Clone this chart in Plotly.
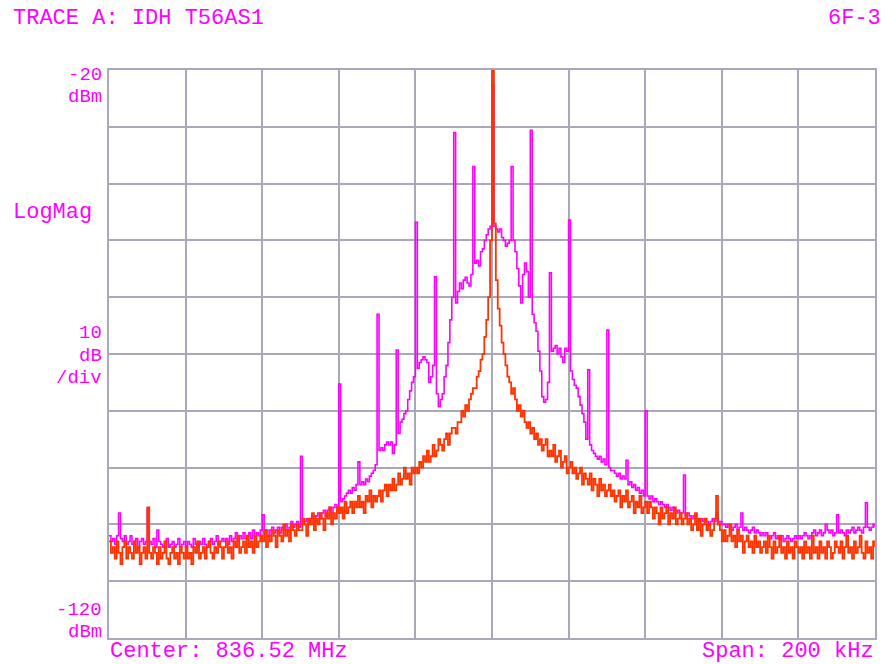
import numpy as np
import plotly.graph_objects as go

# Frequency offset from centre (kHz), 0.5 kHz bins across the 200 kHz span
freq_khz = np.arange(401) * 0.5 - 100.0

# Trace (red/orange) in dBm
trace_red = (
    [-103, -105, -104, -106, -103, -105, -107, -104, -103, -106, -104, -105, -106, -103, -105, -104, -107, -105, -104, -106]
    + [-97, -105, -106, -104, -105, -107, -104, -106, -105, -103, -106, -107, -105, -104, -106, -105, -107, -104, -105, -106]
    + [-104, -106, -105, -107, -104, -105, -103, -106, -105, -104, -106, -104, -103, -105, -106, -104, -105, -103, -104, -106]
    + [-104, -103, -105, -104, -106, -103, -104, -102, -105, -104, -103, -105, -102, -104, -103, -105, -102, -104, -103, -102]
    + [-103, -101, -104, -102, -103, -101, -102, -104, -101, -102, -103, -100, -102, -101, -103, -100, -101, -102, -100, -101]
    + [-101, -99, -100, -102, -99, -100, -98, -101, -99, -100, -98, -99, -101, -98, -99, -97, -100, -98, -99, -97]
    + [-98, -97, -99, -96, -98, -97, -96, -98, -96, -97, -95, -97, -96, -98, -95, -96, -94, -97, -95, -96]
    + [-95, -94, -96, -94, -93, -95, -93, -94, -92, -94, -93, -91, -93, -92, -90, -92, -91, -93, -90, -91]
    + [-90, -91, -89, -90, -88, -89, -87, -89, -88, -86, -88, -87, -85, -86, -87, -85, -84, -86, -84, -83]
    + [-83, -84, -82, -82, -80, -81, -79, -80, -78, -77, -76, -76, -74, -73, -71, -70, -67, -64, -60, -50]
    + [-20]
    + [-47, -57, -62, -65, -68, -70, -72, -74, -75, -77, -76, -78, -80, -79, -81, -80, -82, -83, -82, -84]
    + [-83, -85, -84, -86, -85, -87, -86, -85, -88, -87, -88, -86, -89, -88, -87, -90, -89, -88, -91, -90]
    + [-89, -91, -90, -92, -91, -90, -93, -91, -92, -93, -91, -94, -92, -93, -95, -92, -94, -93, -95, -94]
    + [-93, -95, -94, -96, -95, -94, -97, -95, -96, -94, -97, -96, -95, -98, -96, -97, -95, -98, -97, -96]
    + [-98, -96, -97, -99, -97, -98, -100, -97, -99, -98, -97, -100, -98, -99, -97, -100, -99, -98, -100, -99]
    + [-98, -100, -99, -101, -100, -98, -101, -99, -102, -100, -99, -101, -100, -102, -101, -99, -95, -100, -101, -103]
    + [-101, -103, -102, -100, -103, -102, -104, -101, -103, -102, -105, -103, -102, -104, -103, -105, -102, -104, -103, -105]
    + [-104, -103, -105, -102, -104, -106, -103, -105, -104, -102, -105, -104, -106, -103, -105, -104, -106, -103, -104, -105]
    + [-104, -106, -103, -105, -104, -106, -102, -105, -104, -106, -103, -105, -104, -106, -103, -104, -106, -105, -103, -104]
    + [-105, -103, -106, -104, -102, -105, -104, -106, -103, -105, -104, -102, -105, -106, -103, -105, -104, -106, -103, -104]
)

# Trace A (magenta) in dBm
trace_a = (
    [-102, -103, -102.5, -103.5, -102, -98, -102.5, -103, -102, -103.5, -103, -102, -103.5, -103, -102.5, -104, -103, -102.5, -103.5, -103]
    + [-97.3, -103, -103.5, -102.5, -104, -101, -103, -103.5, -104, -103, -102.5, -104, -103.5, -103, -104, -103.5, -102.5, -104, -103.5, -103]
    + [-104, -103, -103.5, -104, -102.5, -103.5, -104, -103, -103.5, -102.5, -103.5, -104, -103, -102.5, -103.5, -103, -102, -103.5, -103, -102.5]
    + [-103, -102.5, -103.5, -102, -103, -102.5, -101.5, -103, -102, -102.5, -101.5, -102.5, -102, -101.5, -102.5, -101, -102, -101.5, -102, -101]
    + [-98.3, -101.5, -101, -102, -101, -100.5, -101.5, -101, -100.5, -101.5, -100.5, -101, -100, -101, -100.5, -99.5, -100.5, -100, -99.5, -100.5]
    + [-88, -100, -99.5, -99, -100, -99, -98.5, -99.5, -98.5, -98, -99, -98, -97.5, -98.5, -97.5, -97, -98, -97, -96.5, -97]
    + [-75.3, -96, -95.5, -95, -94.5, -94, -94.5, -93.5, -94, -93, -89, -93, -92.5, -93, -92, -92.5, -91.5, -91, -90.5, -89.5]
    + [-63, -87, -86.5, -87, -86, -85.5, -86, -85.5, -87.5, -86, -69.3, -84, -82, -81.5, -80.5, -80, -78, -76.5, -75, -74]
    + [-46.8, -72.5, -71.5, -71, -70.5, -71, -71.5, -75, -74, -72, -56.4, -77, -79.3, -78, -77, -74, -72, -68, -64, -60]
    + [-31, -61, -59, -57.5, -58.5, -57, -56.5, -57.5, -58, -56, -37, -54, -53.5, -54.5, -52, -51.5, -50, -49, -48, -47.5]
    + [-22.5]
    + [-47.5, -48, -48.5, -48, -49.5, -50, -51, -50.5, -50, -37, -50, -52, -55, -58, -61, -56, -54, -55.5, -60, -30.6]
    + [-63, -64.5, -66, -69.5, -73, -77.5, -78.5, -78, -75, -55.7, -69.5, -69, -68.5, -70, -69, -70.5, -71.5, -69, -69.5, -46.4]
    + [-73, -74.5, -75.5, -76, -77.5, -79, -80.5, -82, -85, -72.8, -86, -87, -87.5, -88, -88.5, -88, -89, -88.5, -89.5, -65.8]
    + [-90, -90.5, -90.5, -91, -91.5, -91, -92, -91.5, -92, -88.7, -93, -92.5, -93.5, -93, -94, -93.5, -94.5, -94, -95, -80]
    + [-95, -95.5, -95, -96, -95.5, -96, -96.5, -96, -96.5, -97, -96.5, -97, -97.5, -97, -97.5, -98, -97.5, -98, -98, -91.3]
    + [-98.5, -98, -98.5, -99, -98.5, -99, -99.5, -99, -99, -99.5, -99, -99.5, -100, -99.5, -99, -99.5, -98, -100, -99.5, -100]
    + [-100, -100.5, -100, -100.5, -101, -100.5, -100, -101, -100.5, -98, -101, -100.5, -101, -101.5, -101, -100.5, -101.5, -101, -101.5, -102]
    + [-101.5, -102, -101.5, -102, -102.5, -102, -101.5, -102.5, -102, -102.5, -102, -103, -102.5, -102, -102.5, -103, -102.5, -102, -102.5, -102]
    + [-102.5, -102, -101.5, -102, -102.5, -102, -101.5, -101, -102, -101.5, -101, -102, -101.5, -100, -101, -101.5, -101, -102, -101.5, -98.3]
    + [-101.5, -101, -101.5, -102, -101, -101.5, -101, -100.5, -101.5, -101, -100.5, -101, -101.5, -100.5, -96.2, -100.5, -101, -100.5, -100, -100.5]
)

assert len(trace_red) == len(freq_khz), len(trace_red)
assert len(trace_a) == len(freq_khz), len(trace_a)

ref_level = -20
bottom_level = -120
span_khz = 200

MAG = "#FF00FF"
RED = "#FF3300"
GRID = "#A8A8BA"
FONT = "Liberation Mono, DejaVu Sans Mono, monospace"

fig = go.Figure()
fig.add_trace(go.Scatter(x=freq_khz, y=trace_a, mode="lines", line=dict(color=MAG, width=1.6, shape="hv"),
                         showlegend=False, hoverinfo="skip"))
fig.add_trace(go.Scatter(x=freq_khz, y=trace_red, mode="lines", line=dict(color=RED, width=1.8, shape="hv"),
                         showlegend=False, hoverinfo="skip"))

fig.update_xaxes(range=[-span_khz / 2, span_khz / 2], dtick=20, tick0=-100, showticklabels=False,
                 showgrid=True, gridcolor=GRID, gridwidth=2, zeroline=False,
                 showline=True, linecolor=GRID, linewidth=2, mirror=True, ticks="")
fig.update_yaxes(range=[bottom_level, ref_level], dtick=10, tick0=-120, showticklabels=False,
                 showgrid=True, gridcolor=GRID, gridwidth=2, zeroline=False,
                 showline=True, linecolor=GRID, linewidth=2, mirror=True, ticks="")

L, R, T, B = 109, 8, 70, 26
W, H = 885, 664
pw, ph = W - L - R, H - T - B


def px(x):
    return (x - L) / pw


def py(y):
    return (H - B - y) / ph


# (text, x px, y px, anchor, font size)
texts = [
    ("TRACE A: IDH T56AS1", 12, 19, "left", 22),
    ("6F-3", 884, 19, "right", 22),
    ("-20", 103, 74.5, "right", 19),
    ("dBm", 103, 97, "right", 19),
    ("LogMag", 12, 212, "left", 22),
    ("10", 103, 333, "right", 19),
    ("dB", 103, 355.5, "right", 19),
    ("/div", 103, 378, "right", 19),
    ("-120", 103, 609.5, "right", 19),
    ("dBm", 103, 632, "right", 19),
    ("Center: 836.52 MHz", 109, 651.5, "left", 22),
    ("Span: 200 kHz", 877, 651.5, "right", 22),
]
for t, x, y, anc, sz in texts:
    fig.add_annotation(text=t, x=px(x), y=py(y), xref="paper", yref="paper", xanchor=anc, yanchor="middle",
                       showarrow=False, borderpad=0, font=dict(family=FONT, size=sz, color=MAG))

fig.update_layout(width=W, height=H, margin=dict(l=L, r=R, t=T, b=B, pad=0),
                  plot_bgcolor="white", paper_bgcolor="white")

fig.write_html("out.html")
